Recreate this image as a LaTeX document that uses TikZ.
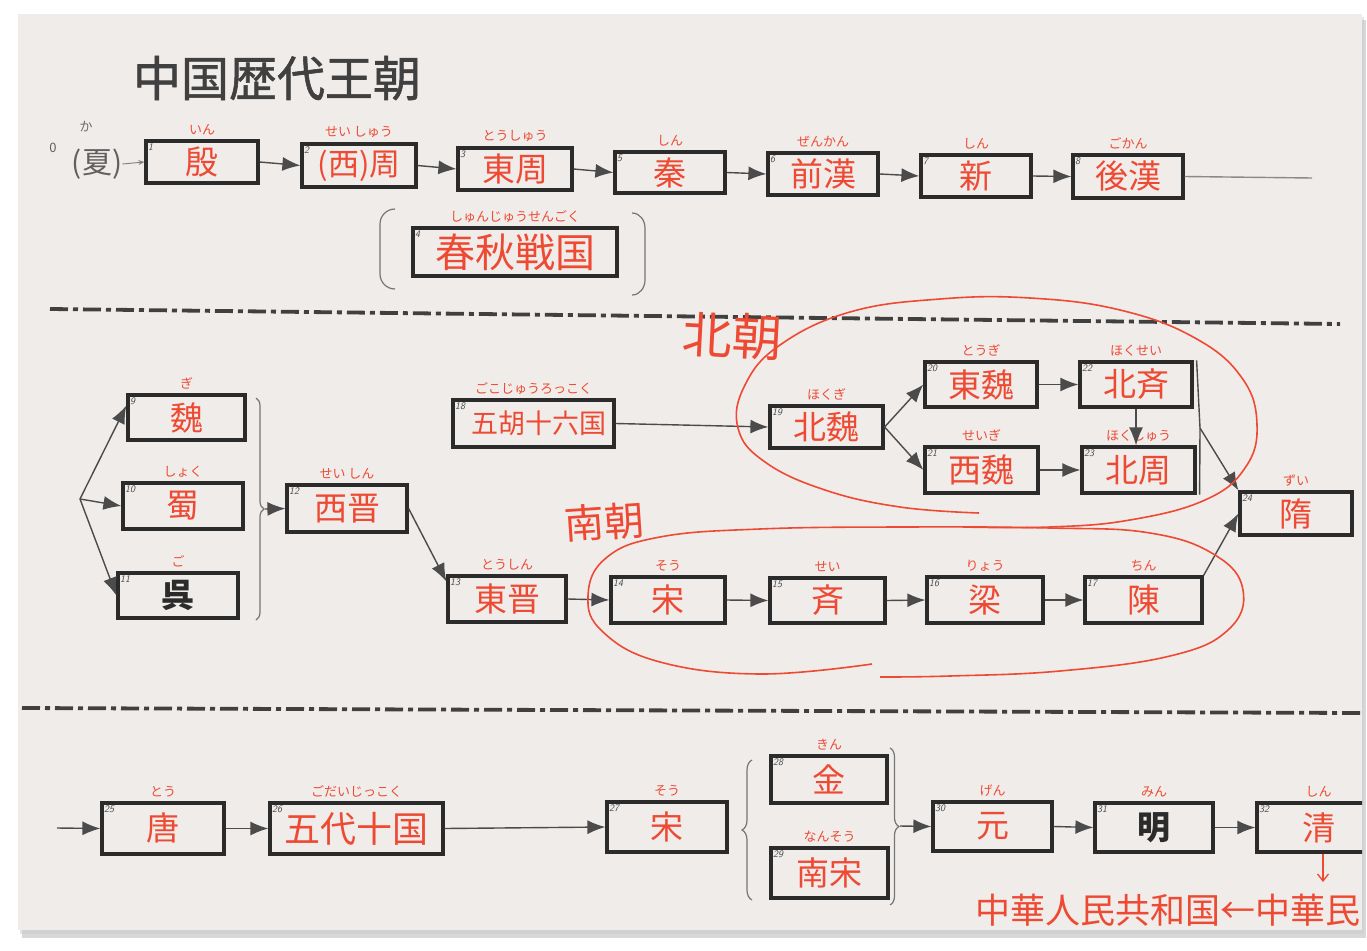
\documentclass[tikz,border=0pt]{standalone}
\usepackage{fontspec}
\newfontfamily\jp{Noto Sans CJK JP}
\newfontfamily\jpheavy[FakeBold=1.2]{Noto Sans CJK JP}
\usetikzlibrary{arrows.meta,decorations.pathreplacing}
\definecolor{paper}{HTML}{F0ECEA}
\definecolor{ink}{HTML}{2B2B2B}
\definecolor{pen}{HTML}{EE4A33}
\tikzset{
  box/.style={draw=ink, line width=3.2pt, inner sep=0pt, text=pen, font=\jp\fontsize{33}{33}\selectfont},
  num/.style={anchor=north west, inner sep=0pt, font=\sffamily\itshape\fontsize{10}{10}\selectfont, text=ink!85},
  furi/.style={inner sep=0pt, text=pen, font=\jp\fontsize{13}{13}\selectfont},
  conn/.style={draw=ink!85, line width=1.4pt, -{Latex[length=18pt,width=14pt]}},
  plainline/.style={draw=ink!85, line width=1.4pt},
  brk/.style={draw=ink!65, line width=1.2pt},
  dashdot/.style={draw=ink!90, line width=3.8pt, dash pattern=on 18pt off 5pt on 5pt off 5pt},
  redline/.style={draw=pen, line width=1.6pt},
  redtext/.style={inner sep=0pt, text=pen, font=\jp\fontsize{#1}{#1}\selectfont},
}
\newcommand\bx[8]{%
  \node[box, minimum width=#4pt, minimum height=#5pt] (#1) at (#2,#3) {#7};
  \node[num] (#1n) at ([shift={(3.5pt,-4.5pt)}]#1.north west) {#6};
  \node[furi] (#1f) at ([yshift=10pt]#1.north) {#8};}
\begin{document}
\begin{tikzpicture}[x=1pt,y=-1pt]
\useasboundingbox (0,0) rectangle (1367,950);
\fill[white] (0,0) rectangle (1367,950);
\fill[black!30, opacity=0.5] (22,20) rectangle (1366,938);
\fill[black!20, opacity=0.5] (20,17) rectangle (1364,934);
\fill[paper] (18,14) rectangle (1362,930);
\begin{scope}
\clip (18,14) rectangle (1362,930);

% title
\node[inner sep=0pt, text=ink!90, font=\jpheavy\fontsize{48}{48}\selectfont] (title) at (277,78) {中国歴代王朝};

% row 1
\node[inner sep=0pt, text=ink!75, font=\jp\fontsize{13}{13}\selectfont] (zero) at (53,148) {0};
\node[inner sep=0pt, text=ink!75, font=\jp\fontsize{30}{30}\selectfont] (xia) at (97,164) {(夏)};
\node[furi, text=ink!70] (xiaf) at (86,127) {か};
\bx{b1}{202}{162}{112}{42}{1}{殷}{いん}
\bx{b2}{359}{165.5}{114}{43}{2}{\fontsize{31}{31}\selectfont(西)周}{せい\ しゅう}
\bx{b3}{515}{169}{114}{42}{3}{東周}{とうしゅう}
\bx{b5}{670}{172.5}{110}{41}{5}{秦}{しん}
\bx{b6}{823}{174}{110}{42}{6}{前漢}{ぜんかん}
\bx{b7}{976}{176}{110}{42}{7}{新}{しん}
\bx{b8}{1128}{176.5}{110}{43}{8}{後漢}{ごかん}
\bx{b4}{515}{252}{204}{48}{4}{\fontsize{40}{40}\selectfont 春秋戦国}{しゅんじゅうせんごく}
\coordinate (e8) at (1312,178);
\draw[draw=ink!60, line width=0.9pt, -{Stealth[length=6pt,width=5pt]}] (xia.east) -- (b1.west);
\draw[conn] (b1.east) -- (b2.west);
\draw[conn] (b2.east) -- (b3.west);
\draw[conn] (b3.east) -- (b5.west);
\draw[conn] (b5.east) -- (b6.west);
\draw[conn] (b6.east) -- (b7.west);
\draw[conn] (b7.east) -- (b8.west);
\draw[plainline, draw=ink!55] (b8.east) -- (e8);
\draw[brk] (395,209) to[out=180,in=90] (380,224) -- (380,274) to[out=-90,in=180] (395,289);
\draw[brk] (632,213) to[out=0,in=90] (645,228) -- (645,280) to[out=-90,in=0] (632,295);

% separator 1
\draw[dashdot] (50,309) -- (1340,324);

% row 2 left
\bx{b9}{186.5}{417.5}{117}{45}{9}{魏}{ぎ}
\bx{b10}{183}{506}{120}{46}{10}{蜀}{しょく}
\bx{b11}{178}{595.5}{120}{45}{11}{\textcolor{ink}{\bfseries 呉}}{ご}
\bx{b12}{347}{508.5}{120}{47}{12}{西晋}{せい\ しん}
\coordinate (fork) at (80,499);
\draw[conn] (fork) -- ([yshift=12pt]b9.west);
\draw[conn] (fork) -- (b10.west);
\draw[conn] (fork) -- (b11.west);
\draw[brk, decorate, decoration={brace, amplitude=8pt}] (256,398) -- (256,620);
\coordinate (br1) at (265,509);
\draw[conn] (br1) -- (b12.west);

% north dynasties
\bx{b18}{533.5}{423.5}{161}{47}{18}{\hspace*{10pt}\fontsize{27}{27}\selectfont 五胡十六国}{ごこじゅうろっこく}
\bx{b19}{826.5}{427}{113}{42}{19}{北魏}{ほくぎ}
\bx{b20}{981}{384.5}{112}{45}{20}{東魏}{とうぎ}
\bx{b21}{981.5}{470}{113}{46}{21}{西魏}{せいぎ}
\bx{b22}{1136}{384.5}{112}{45}{22}{北斉}{ほくせい}
\bx{b23}{1138.5}{470}{113}{46}{23}{北周}{ほくしゅう}
\bx{b24}{1296}{513.5}{112}{43}{24}{隋}{ずい}
\draw[conn] (b18.east) -- (b19.west);
\draw[conn] (b19.east) -- (b20.west);
\draw[conn] (b19.east) -- (b21.west);
\draw[conn] (b20.east) -- (b22.west);
\draw[conn] (b21.east) -- (b23.west);
\draw[conn] (b22.south) -- (b22.south |- b23.north);
\coordinate (j) at (1200,428);
\draw[plainline] ([xshift=3pt]b22.north east) -- (j) -- ([xshift=3pt]b23.south east);
\draw[conn] (j) -- (b24.north west);

% south dynasties
\bx{b13}{507}{599}{118}{46}{13}{東晋}{とうしん}
\bx{b14}{668}{600}{114}{46}{14}{宋}{そう}
\bx{b15}{827.5}{600.5}{115}{45}{15}{斉}{せい}
\bx{b16}{985}{600}{116}{46}{16}{梁}{りょう}
\bx{b17}{1143.5}{600}{117}{46}{17}{陳}{ちん}
\draw[conn] (b12.east) -- ([yshift=-7pt]b13.north west);
\draw[conn] (b13.east) -- (b14.west);
\draw[conn] (b14.east) -- (b15.west);
\draw[conn] (b15.east) -- (b16.west);
\draw[conn] (b16.east) -- (b17.west);
\draw[conn] (b17.north east) -- (b24.west);

% red annotations
\draw[redline] plot[smooth, tension=0.7] coordinates {(979,513) (900,507) (825,490) (765,462) (738,428) (745,385) (780,345) (850,312) (940,299) (1030,298) (1120,310) (1195,338) (1242,378) (1257,425) (1245,468) (1205,500) (1130,520) (1050,527) (963,527)};
\draw[redline] plot[smooth, tension=0.7] coordinates {(872,664) (760,674) (660,662) (603,632) (588,596) (606,558) (660,537) (760,529) (900,527) (1050,528) (1150,533) (1215,555) (1243,590) (1228,630) (1170,656) (1060,671) (950,676) (880,677)};
\node[redtext=50, rotate=-3] (beichao) at (732,336) {北朝};
\node[redtext=40, rotate=4] (nanchao) at (604,522) {南朝};

% separator 2
\draw[dashdot] (22,708) -- (1362,713);

% row 3
\coordinate (s25) at (57,828);
\bx{b25}{163}{828.5}{122}{51}{25}{唐}{とう}
\bx{b26}{356.5}{828.5}{173}{51}{26}{\fontsize{36}{36}\selectfont 五代十国}{ごだいじっこく}
\bx{b27}{667}{827}{120}{50}{27}{宋}{そう}
\bx{b28}{829}{779.5}{116}{47}{28}{金}{きん}
\bx{b29}{829.5}{873}{117}{50}{29}{南宋}{なんそう}
\bx{b30}{992.5}{826.5}{119}{49}{30}{元}{げん}
\bx{b31}{1154}{827.5}{118}{49}{31}{\textcolor{ink}{\bfseries 明}}{みん}
\begin{scope}
\clip (1200,770) rectangle (1362,870);
\bx{b32}{1318.5}{827.5}{123}{49}{32}{清}{しん}
\end{scope}
\draw[conn] (s25) -- (b25.west);
\draw[conn] (b25.east) -- (b26.west);
\draw[conn] (b26.east) -- (b27.west);
\draw[brk, decorate, decoration={brace, amplitude=10pt}] (752,900) -- (752,760);
\draw[brk, decorate, decoration={brace, amplitude=9pt}] (890,748) -- (890,905);
\coordinate (br2) at (900,826);
\draw[conn] (br2) -- (b30.west);
\draw[conn] (b30.east) -- (b31.west);
\draw[conn] (b31.east) -- (b32.west);
\coordinate (prc) at (1323,882);
\draw[redline, line width=1.3pt, -{Straight Barb[length=7pt,width=11pt]}] (b32.south -| prc) -- (prc);
\node[redtext=35, anchor=west] (modern) at (975,910) {中華人民共和国←中華民};
\end{scope}
\end{tikzpicture}
\end{document}
